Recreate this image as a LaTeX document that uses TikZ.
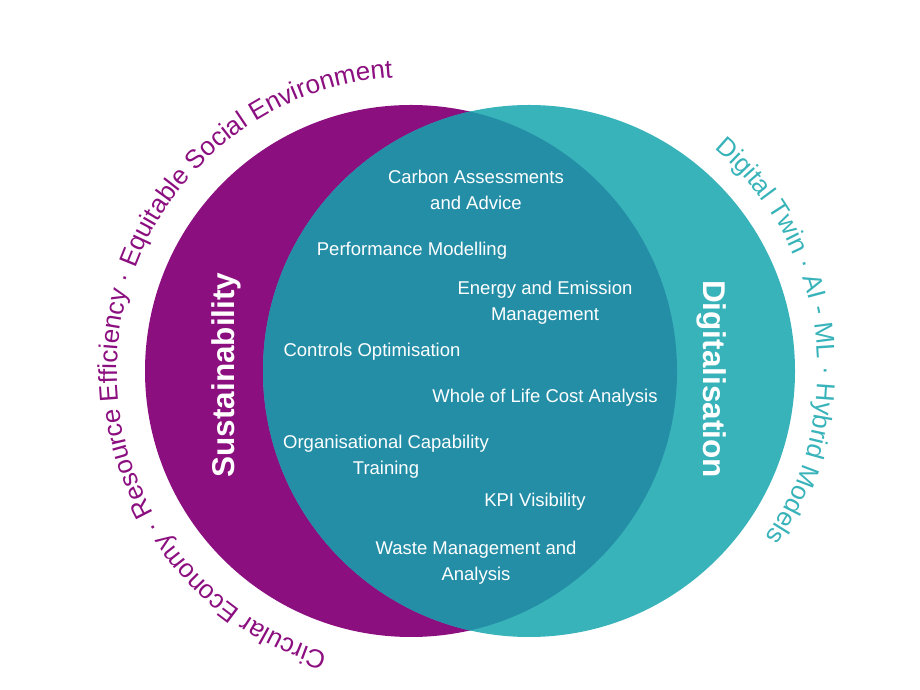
\documentclass[tikz,border=0pt]{standalone}
\usepackage{fontspec}
\setmainfont{Liberation Sans}
\usetikzlibrary{decorations.text}
\definecolor{suspurple}{HTML}{8C0F80}
\definecolor{digteal}{HTML}{38B3BA}
\definecolor{lensblue}{HTML}{248EA7}
\newcommand\itemfont{\fontsize{18.5}{26}\selectfont}
\newcommand\titlefont{\fontsize{31.5}{34}\selectfont\bfseries}
\newcommand\arcfont{\fontsize{26}{28}\selectfont}

\begin{document}
\begin{tikzpicture}[x=1pt,y=1pt]
  \useasboundingbox (0,0) rectangle (920,690);
  \coordinate (sus) at (411,319);
  \coordinate (dig) at (529,319);
  \fill[suspurple] (sus) circle[radius=266pt];
  \fill[digteal] (dig) circle[radius=266pt];
  \begin{scope}
    \clip (sus) circle[radius=266pt];
    \fill[lensblue] (dig) circle[radius=266pt];
  \end{scope}
  \path[decorate,decoration={text along path,text align=center,
      text color=suspurple,
      text={|\arcfont|Circular Economy · Resource Efficiency · Equitable Social Environment}}]
    (sus) ++(265:294pt) arc[start angle=265,end angle=82,radius=294pt];
  \path[decorate,decoration={text along path,text align=center,
      text color=digteal,
      text={|\arcfont|Digital Twin · AI - ML · Hybrid Models}}]
    (dig) ++(60:289pt) arc[start angle=60,end angle=-45,radius=289pt];
  \begin{scope}[
    every node/.style={
      text=white,
      align=center,
      inner sep=0pt,
    },
    ]
    \node[font=\titlefont,rotate=90] (sustain) at (226,315) {Sustainability};
    \node[font=\titlefont,rotate=-90] (digital) at (712,311) {Digitalisation};
    \foreach[count=\i] \x/\y/\txt in
    {476/500/{Carbon Assessments\\and Advice},
     412/439/{Performance Modelling},
     545/387/{Energy and Emission\\Management},
     372/338/{Controls Optimisation},
     545/292/{Whole of Life Cost Analysis},
     386/233/{Organisational Capability\\Training},
     535/188/{KPI Visibility},
     476/127/{Waste Management and\\Analysis}}
    {
      \node[font=\itemfont] (item\i) at (\x,\y) {\txt};
    }
  \end{scope}
\end{tikzpicture}
\end{document}
